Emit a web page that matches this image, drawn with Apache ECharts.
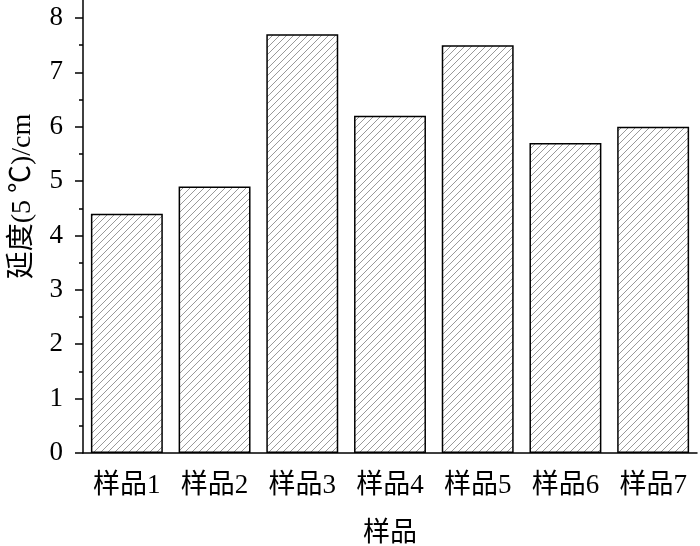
<!DOCTYPE html>
<html>
<head>
<meta charset="utf-8">
<script src="https://cdn.jsdelivr.net/npm/echarts@6/dist/echarts.min.js"></script>
<style>
  html, body { margin: 0; padding: 0; background: #fff; }
  #chart { width: 700px; height: 546px; }
</style>
</head>
<body>
<div id="chart"></div>
<script>
// 数据
var categories = ['样品1', '样品2', '样品3', '样品4', '样品5', '样品6', '样品7'];
var ductility = [4.4, 4.9, 7.7, 6.2, 7.5, 5.7, 6.0];
var yTicks = [0, 1, 2, 3, 4, 5, 6, 7, 8];
var yMinorTicks = [0.5, 1.5, 2.5, 3.5, 4.5, 5.5, 6.5, 7.5];

var FONT = '"Liberation Serif", "Times New Roman", "Noto Sans CJK SC", serif';

// 斜线填充
function makeHatch() {
	var s = 7;
	var c = document.createElement('canvas');
	c.width = s;
	c.height = s;
	var ctx = c.getContext('2d');
	ctx.fillStyle = '#ffffff';
	ctx.fillRect(0, 0, s, s);
	ctx.strokeStyle = '#999999';
	ctx.lineWidth = 1;
	ctx.beginPath();
	ctx.moveTo(-1, s + 1); ctx.lineTo(s + 1, -1);
	ctx.moveTo(-1, 1); ctx.lineTo(1, -1);
	ctx.moveTo(s - 1, s + 1); ctx.lineTo(s + 1, s - 1);
	ctx.stroke();
	return c;
}

var myChart = echarts.init(document.getElementById('chart'));
var option = {
	animation: false,
	grid: {
		left: 83,
		right: 3,
		top: 0,
		bottom: 93,
		containLabel: false,
		outerBoundsMode: 'none'
	},
	xAxis: [{
		type: 'category',
		position: 'bottom',
		data: categories,
		name: '样品',
		nameLocation: 'middle',
		nameGap: 67,
		nameTextStyle: { fontFamily: FONT, fontSize: 27, color: '#000' },
		axisLine: { lineStyle: { color: '#000', width: 1.5 } },
		axisTick: { alignWithLabel: true, length: 9, lineStyle: { color: '#000', width: 1.5 } },
		axisLabel: { fontFamily: FONT, fontSize: 27, color: '#000', margin: 19, interval: 0 }
	}, {
		type: 'category',
		position: 'bottom',
		data: categories,
		axisLine: { show: false },
		axisTick: { length: 4, lineStyle: { color: '#000', width: 1.5 } },
		axisLabel: { show: false }
	}],
	yAxis: [{
		type: 'value',
		position: 'left',
		min: 0,
		max: 8.33,
		name: '延度(5 ℃)/cm',
		nameLocation: 'middle',
		nameGap: 46,
		nameTextStyle: { fontFamily: FONT, fontSize: 28, color: '#000', padding: [0, 0, 0, 60] },
		splitLine: { show: false },
		axisLine: { show: true, lineStyle: { color: '#000', width: 1.5 } },
		axisTick: { show: true, customValues: yTicks, length: 8, lineStyle: { color: '#000', width: 1.5 } },
		axisLabel: { customValues: yTicks, fontFamily: FONT, fontSize: 27, color: '#000', margin: 20 }
	}, {
		type: 'value',
		position: 'left',
		min: 0,
		max: 8.33,
		splitLine: { show: false },
		axisLine: { show: false },
		axisTick: { show: true, customValues: yMinorTicks, length: 4, lineStyle: { color: '#000', width: 1.5 } },
		axisLabel: { show: false }
	}],
	series: [{
		type: 'bar',
		xAxisIndex: 0,
		yAxisIndex: 0,
		data: ductility,
		barWidth: '82%',
		itemStyle: {
			color: { image: makeHatch(), repeat: 'repeat' },
			borderColor: '#000',
			borderWidth: 1.5
		}
	}]
};
myChart.setOption(option);
</script>
</body>
</html>
